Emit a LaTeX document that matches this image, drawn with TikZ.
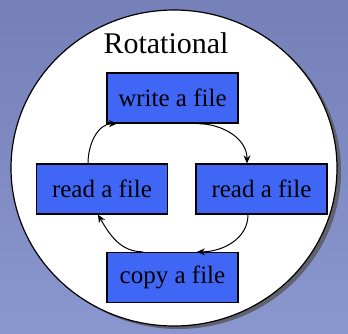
\documentclass[tikz,border=0pt]{standalone}
\usepackage{fontspec}
\setmainfont{Liberation Serif}
\usetikzlibrary{arrows.meta,calc}
\definecolor{bgtop}{RGB}{118,128,184}
\definecolor{bgbot}{RGB}{138,150,206}
\definecolor{boxblue}{RGB}{64,102,246}
\definecolor{shadowgrey}{RGB}{96,98,112}
\tikzset{
  stepbox/.style={draw=black, line width=1.3pt, fill=boxblue, minimum width=131pt,
    minimum height=50pt, inner sep=0pt, font=\fontsize{25}{27}\selectfont},
  flow/.style={draw=black, line width=1pt, -{Stealth[length=8pt,width=7pt]}}
}
\begin{document}
\begin{tikzpicture}[x=1pt,y=-1pt]
  % background panel
  \shade[top color=bgtop, bottom color=bgbot] (0,0) rectangle (348,333);
  \useasboundingbox (0,0) rectangle (348,333);
  % disc with its shadow
  \fill[shadowgrey] (178,171) ellipse [x radius=163, y radius=158];
  \draw[fill=white, line width=1.2pt] (174,168) ellipse [x radius=163, y radius=158];
  \node (title) at (166,43) {\fontsize{30}{32}\selectfont Rotational};
  % the four steps
  \node[stepbox] (w) at (172.5,98)  {write a file};
  \node[stepbox] (l) at (102,189)   {read a file};
  \node[stepbox] (r) at (261.5,189) {read a file};
  \node[stepbox] (c) at (172.5,277.5) {copy a file};
  % clockwise flow
  \draw[flow] ([xshift=25pt]w.south) to[out=0,in=90] ([xshift=-14.5pt]r.north);
  \draw[flow] ([xshift=-13.5pt]r.south) to[out=-90,in=0] ([xshift=24.5pt]c.north);
  \draw[flow] ([xshift=-29.5pt]c.north) to[out=180,in=-60] ([xshift=-4pt]l.south);
  \draw[flow] ([xshift=-14pt]l.north) to[out=90,in=180] ([xshift=-55.5pt]w.south);
\end{tikzpicture}
\end{document}
